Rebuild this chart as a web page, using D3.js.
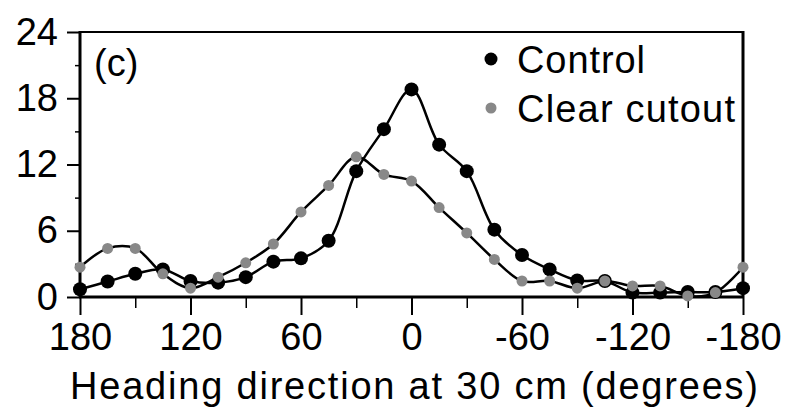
<!DOCTYPE html>
<html>
<head>
<meta charset="utf-8">
<script src="https://cdn.jsdelivr.net/npm/d3@7"></script>
<style>
  html, body { margin: 0; padding: 0; background: #fff; }
  svg { display: block; font-family: "Liberation Sans", Arial, Helvetica, sans-serif; }
</style>
</head>
<body>
<svg id="chart" width="789" height="411"></svg>
<script>
const headings = [180,165,150,135,120,105,90,75,60,45,30,15,0,-15,-30,-45,-60,-75,-90,-105,-120,-135,-150,-165,-180];
const controlValues = [0.7,1.4,2.1,2.5,1.45,1.3,1.8,3.2,3.5,5.1,11.4,15.2,18.8,13.8,11.4,6.1,3.8,2.5,1.5,1.45,0.4,0.4,0.45,0.45,0.8];
const clearValues = [2.7,4.4,4.4,2.1,0.8,1.8,3.1,4.8,7.7,10.1,12.7,11.1,10.5,8.1,5.8,3.4,1.45,1.45,0.8,1.45,1.0,1.0,0.1,0.4,2.7];
const xMajorTicks = [180,120,60,0,-60,-120,-180];
const xMinorTicks = [150,90,30,-30,-90,-150];
const yMajorTicks = [0,6,12,18,24];
const yMinorTicks = [3,9,15,21];
const seriesNames = ["Control","Clear cutout"];
const seriesColors = ["#000000","#888888"];
const panelLabel = "(c)";
const xTitle = "Heading direction at 30 cm (degrees)";

const svg = d3.select("#chart");
const L = 80, R = 743, T = 32, B = 297;
const x = d3.scaleLinear().domain([180,-180]).range([L,R]);
const y = d3.scaleLinear().domain([0,24]).range([B,T]);
const fmt = d => String(d);

// frame top & right
svg.append("line").attr("x1",L).attr("x2",R).attr("y1",T).attr("y2",T).attr("stroke","#000").attr("stroke-width",2);
svg.append("line").attr("x1",R).attr("x2",R).attr("y1",T-1).attr("y2",B).attr("stroke","#000").attr("stroke-width",3);

// bottom axis
const xAxis = svg.append("g").attr("transform",`translate(0,${B})`)
  .call(d3.axisBottom(x).tickValues(xMajorTicks).tickSize(18).tickPadding(8).tickFormat(fmt));
xAxis.select(".domain").attr("stroke-width",3).attr("d",`M${L-1},0H${R+1}`);
xAxis.selectAll(".tick line").attr("stroke-width",2);
xAxis.selectAll(".tick text").attr("font-size",38).attr("fill","#000").attr("dy","0.72em");
const xMinor = svg.append("g").attr("transform",`translate(0,${B})`)
  .call(d3.axisBottom(x).tickValues(xMinorTicks).tickSize(11).tickFormat(""));
xMinor.select(".domain").remove();
xMinor.selectAll(".tick line").attr("stroke-width",1.5);

// left axis
const yAxis = svg.append("g").attr("transform",`translate(${L},0)`)
  .call(d3.axisLeft(y).tickValues(yMajorTicks).tickSize(13).tickPadding(9).tickFormat(fmt));
yAxis.select(".domain").attr("stroke-width",3).attr("d",`M0,${T-1}V${B+1}`);
yAxis.selectAll(".tick line").attr("stroke-width",2);
yAxis.selectAll(".tick text").attr("font-size",38).attr("fill","#000");
const yMinor = svg.append("g").attr("transform",`translate(${L},0)`)
  .call(d3.axisLeft(y).tickValues(yMinorTicks).tickSize(5).tickFormat(""));
yMinor.select(".domain").remove();
yMinor.selectAll(".tick line").attr("stroke-width",1.5);

// series
const seriesData = [controlValues, clearValues];
const radii = [7, 5.5];
const line = d3.line().x((d,i)=>x(headings[i])).y(d=>y(d)).curve(d3.curveCatmullRom.alpha(0.5));
seriesData.forEach((vals, s) => {
  svg.append("path").attr("d", line(vals)).attr("fill","none").attr("stroke","#000").attr("stroke-width",2.5);
});
seriesData.forEach((vals, s) => {
  svg.append("g").selectAll("circle").data(vals).join("circle")
    .attr("cx",(d,i)=>x(headings[i])).attr("cy",d=>y(d)).attr("r",radii[s]).attr("fill",seriesColors[s]);
});

// panel label
svg.append("text").attr("x",94).attr("y",76).attr("font-size",38).text(panelLabel);

// legend
const legY = [59, 108];
const legR = [6.5, 5.5];
const legW = [128, 218];
seriesNames.forEach((n,i)=>{
  svg.append("circle").attr("cx",491).attr("cy",legY[i]).attr("r",legR[i]).attr("fill",seriesColors[i]);
  svg.append("text").attr("x",517).attr("y",legY[i]).attr("dy","0.36em").attr("font-size",38).attr("fill","#000")
    .attr("textLength",legW[i]).attr("lengthAdjust","spacing").text(n);
});

// x title
svg.append("text").attr("x",70).attr("y",399).attr("font-size",38).attr("fill","#000")
  .attr("textLength",688).attr("lengthAdjust","spacing").text(xTitle);
</script>
</body>
</html>
